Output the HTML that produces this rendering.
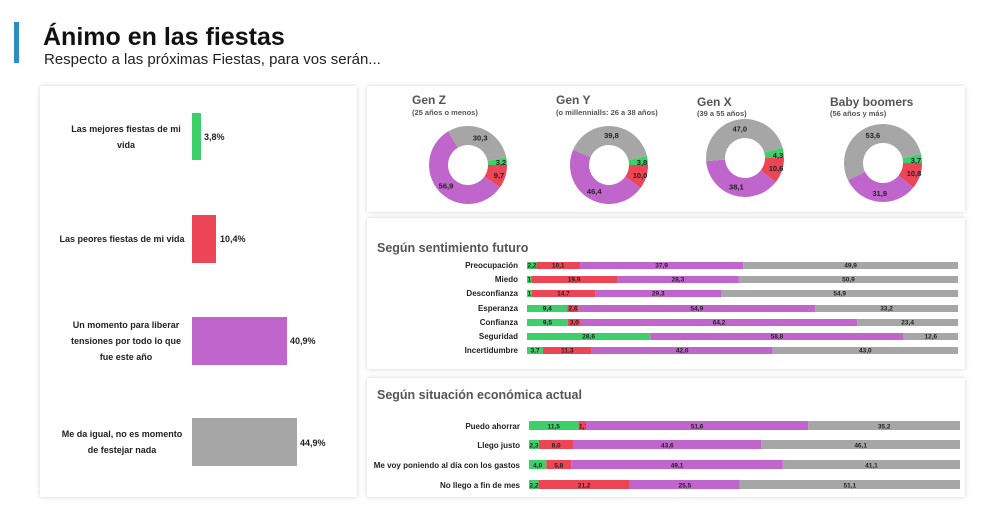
<!DOCTYPE html>
<html><head><meta charset="utf-8"><style>
body{margin:0;background:#fff;width:1000px;height:505px;overflow:hidden;font-family:"Liberation Sans",sans-serif}
</style></head><body>
<svg id="s" width="1000" height="505" xmlns="http://www.w3.org/2000/svg" font-family="Liberation Sans, sans-serif">
<defs><filter id="sh" x="-5%" y="-5%" width="110%" height="110%"><feDropShadow dx="0" dy="0" stdDeviation="2" flood-color="#000" flood-opacity="0.18"/></filter></defs>
<rect x="14" y="22" width="5" height="41" fill="#2a8fc0"/>
<text x="43" y="45" font-size="25" font-weight="bold" fill="#111">Ánimo en las fiestas</text>
<text x="44" y="64" font-size="15" fill="#222">Respecto a las próximas Fiestas, para vos serán...</text>
<rect x="40" y="86" width="317" height="411" fill="#fff" filter="url(#sh)"/>
<rect x="367" y="86" width="598" height="126" fill="#fff" filter="url(#sh)"/>
<rect x="367" y="218" width="598" height="151" fill="#fff" filter="url(#sh)"/>
<rect x="367" y="378" width="598" height="119" fill="#fff" filter="url(#sh)"/>
<g font-size="9" font-weight="bold" fill="#222" text-anchor="middle">
<text x="126" y="132">Las mejores fiestas de mi</text><text x="126" y="148">vida</text>
<text x="122" y="242">Las peores fiestas de mi vida</text>
<text x="126" y="328">Un momento para liberar</text><text x="126" y="344">tensiones por todo lo que</text><text x="126" y="360">fue este año</text>
<text x="122" y="437">Me da igual, no es momento</text><text x="122" y="453">de festejar nada</text>
</g>
<rect x="192" y="113" width="9" height="47" fill="#3dd06a"/>
<rect x="192" y="215" width="24" height="48" fill="#ec4656"/>
<rect x="192" y="317" width="95" height="48" fill="#bf65cc"/>
<rect x="192" y="418" width="105" height="48" fill="#a6a6a6"/>
<g font-size="9" font-weight="bold" fill="#222">
<text x="204" y="140">3,8%</text><text x="220" y="242">10,4%</text><text x="290" y="344">40,9%</text><text x="300" y="446">44,9%</text>
</g>
<g fill="#555" font-weight="bold">
<text x="412" y="104" font-size="12">Gen Z</text><text x="412" y="115" font-size="7.5">(25 años o menos)</text>
<text x="556" y="104" font-size="12">Gen Y</text><text x="556" y="115" font-size="7.5">(o millennialls: 26 a 38 años)</text>
<text x="697" y="106" font-size="12">Gen X</text><text x="697" y="116" font-size="7.5">(39 a 55 años)</text>
<text x="830" y="106" font-size="12">Baby boomers</text><text x="830" y="116" font-size="7.5">(56 años y más)</text>
<text x="377" y="252" font-size="12.5">Según sentimiento futuro</text>
<text x="377" y="399" font-size="12.5">Según situación económica actual</text>
</g>
<g id="dyn"></g>
</svg>
<script>
var C=["#3dd06a","#ec4656","#bf65cc","#a6a6a6"],g=document.getElementById("dyn"),h="";
function pt(cx,cy,r,a){return [cx+r*Math.cos(a),cy+r*Math.sin(a)];}
function arc(cx,cy,R,r,a0,a1,col){var l=(a1-a0)>Math.PI?1:0,p1=pt(cx,cy,R,a0),p2=pt(cx,cy,R,a1),p3=pt(cx,cy,r,a1),p4=pt(cx,cy,r,a0);
return '<path d="M'+p1+' A'+R+','+R+' 0 '+l+' 1 '+p2+' L'+p3+' A'+r+','+r+' 0 '+l+' 0 '+p4+'Z" fill="'+col+'"/>';}
var D=[[468,165,[3.2,9.7,56.9,30.3]],[609,165,[3.8,10.0,46.4,39.8]],[745,158,[4.3,10.6,38.1,47.0]],[883,163,[3.7,10.8,31.9,53.6]]];
D.forEach(function(d){var v=d[2],t=v.reduce(function(a,b){return a+b}),a=-v[0]/t*2*Math.PI,lab="";
v.forEach(function(x,i){var a1=a+x/t*2*Math.PI;h+=arc(d[0],d[1],39,20,a,a1,C[i]);var m=(a+a1)/2,p=pt(d[0],d[1],30,m);
if(i==0)p=[d[0]+33,d[1]-3];if(i==1)p=[d[0]+31,d[1]+10];
lab+='<text x="'+p[0]+'" y="'+(p[1]+3)+'">'+x.toFixed(1).replace(".",",")+'</text>';a=a1;});h+='<g font-size="7.5" font-weight="bold" fill="#222" text-anchor="middle">'+lab+'</g>';});
function bars(rows,x0,W,ys,hh,lx){rows.forEach(function(r,k){var x=x0,y=ys[k],t=r[1].reduce(function(a,b){return a+b});
h+='<text x="'+lx+'" y="'+(y+hh-1)+'" font-size="8" font-weight="bold" fill="#222" text-anchor="end">'+r[0]+'</text>';
r[1].forEach(function(v,i){var w=v/t*W;h+='<rect x="'+x+'" y="'+y+'" width="'+w+'" height="'+hh+'" fill="'+C[i]+'"/>';
h+='<text x="'+(x+Math.max(w/2,5))+'" y="'+(y+hh-1.5)+'" font-size="6.5" font-weight="bold" fill="#222" text-anchor="middle">'+v.toFixed(1).replace(".",",")+'</text>';x+=w;});});}
bars([["Preocupación",[2.2,10.1,37.9,49.9]],["Miedo",[1.0,19.9,28.3,50.9]],["Desconfianza",[1.1,14.7,29.3,54.9]],["Esperanza",[9.4,2.6,54.9,33.2]],["Confianza",[9.5,3.0,64.2,23.4]],["Seguridad",[28.6,0.0,58.8,12.6]],["Incertidumbre",[3.7,11.3,42.0,43.0]]],527,431,[262,276,290,305,319,333,347],7,518);
bars([["Puedo ahorrar",[11.5,1.7,51.6,35.2]],["Llego justo",[2.3,8.0,43.6,46.1]],["Me voy poniendo al día con los gastos",[4.0,5.8,49.1,41.1]],["No llego a fin de mes",[2.2,21.2,25.5,51.1]]],529,431,[421,440,460,480],9,520);
g.innerHTML=h;
</script>
</body></html>
